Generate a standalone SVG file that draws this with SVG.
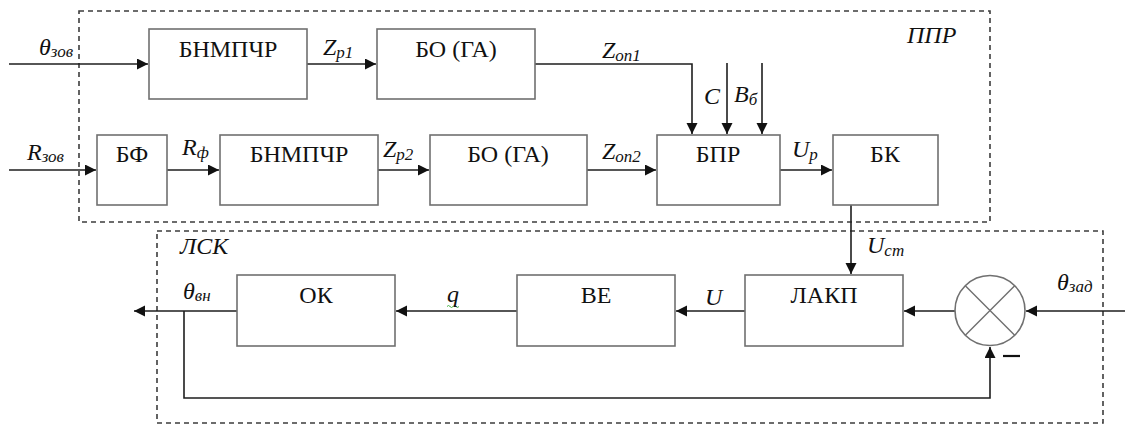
<svg xmlns="http://www.w3.org/2000/svg" width="1125" height="425" viewBox="0 0 1125 425">
<style>
.box{fill:#fff;stroke:#707070;stroke-width:1.6}
.frame{fill:none;stroke:#3c3c3c;stroke-width:1.6;stroke-dasharray:5 4}
.ln{fill:none;stroke:#1e1e1e;stroke-width:1.6}
.bt{font-size:24px;fill:#111;text-anchor:middle}
.lb{font-size:24px;font-style:italic;fill:#111}
.sb{font-size:17px}
</style>
<defs>
<marker id="ar" markerUnits="userSpaceOnUse" markerWidth="12" markerHeight="12" refX="11" refY="5.5" orient="auto">
<path d="M0,0 L11,5.5 L0,11 z" fill="#111"/>
</marker>
</defs>
<g font-family="Liberation Serif, 'Times New Roman', serif">
<g id="frames">
<rect class="frame" x="79" y="11" width="911" height="211"/>
<rect class="frame" x="157" y="231" width="946" height="192"/>
<text class="lb" x="907" y="43">ППР</text>
<text class="lb" x="180" y="254">ЛСК</text>
</g>
<g id="connectors">
<path class="ln" d="M9,64 H148" marker-end="url(#ar)"/>
<path class="ln" d="M307,64 H376" marker-end="url(#ar)"/>
<path class="ln" d="M535,64 H692 V134" marker-end="url(#ar)" stroke="#444"/>
<path class="ln" d="M727,63 V134" marker-end="url(#ar)"/>
<path class="ln" d="M762,63 V134" marker-end="url(#ar)"/>
<path class="ln" d="M9,170 H96" marker-end="url(#ar)"/>
<path class="ln" d="M167,170 H219" marker-end="url(#ar)"/>
<path class="ln" d="M378,170 H429" marker-end="url(#ar)"/>
<path class="ln" d="M587,170 H656" marker-end="url(#ar)"/>
<path class="ln" d="M780,170 H832" marker-end="url(#ar)"/>
<path class="ln" d="M851,205 V274" marker-end="url(#ar)"/>
<path class="ln" d="M1125,311 H1026" marker-end="url(#ar)"/>
<path class="ln" d="M955,311 H904" marker-end="url(#ar)"/>
<path class="ln" d="M745,311 H676" marker-end="url(#ar)"/>
<path class="ln" d="M517,311 H396" marker-end="url(#ar)"/>
<path class="ln" d="M237,311 H134" marker-end="url(#ar)"/>
<path class="ln" d="M184,311 V398 H990 V347" marker-end="url(#ar)" stroke="#444"/>
<path d="M1003,356 H1020" stroke="#111" stroke-width="2.2"/>
<path d="M447,306.5 q1.5,-2 3,0 t3,0 t3,0 t3,0" fill="none" stroke="#3a3" stroke-width="0.9"/>
</g>
<g id="labels">
<text class="lb" x="39" y="55">θ<tspan class="sb" dy="2">зов</tspan></text>
<text class="lb" x="323" y="55">Z<tspan class="sb" dy="3">р1</tspan></text>
<text class="lb" x="602" y="58">Z<tspan class="sb" dy="3">оп1</tspan></text>
<text class="lb" x="704" y="104">C</text>
<text class="lb" x="734" y="102">B<tspan class="sb" dy="3">б</tspan></text>
<text class="lb" x="27" y="160">R<tspan class="sb" dy="2">зов</tspan></text>
<text class="lb" x="182" y="155">R<tspan class="sb" dy="3">ф</tspan></text>
<text class="lb" x="383" y="157">Z<tspan class="sb" dy="3">р2</tspan></text>
<text class="lb" x="602" y="159">Z<tspan class="sb" dy="3">оп2</tspan></text>
<text class="lb" x="792" y="157">U<tspan class="sb" dy="3">р</tspan></text>
<text class="lb" x="867" y="253">U<tspan class="sb" dy="3">ст</tspan></text>
<text class="lb" x="183" y="299">θ<tspan class="sb" dy="2">вн</tspan></text>
<text class="lb" x="447" y="302">q</text>
<text class="lb" x="705" y="305">U</text>
<text class="lb" x="1057" y="290">θ<tspan class="sb" dy="2">зад</tspan></text>
</g>
<g id="bnmpchr1"><rect class="box" x="149" y="29" width="158" height="70"/><text class="bt" x="228" y="57">БНМПЧР</text></g>
<g id="bo1"><rect class="box" x="377" y="29" width="158" height="70"/><text class="bt" x="456" y="57">БО (ГА)</text></g>
<g id="bf"><rect class="box" x="97" y="135" width="70" height="70"/><text class="bt" x="132" y="162">БФ</text></g>
<g id="bnmpchr2"><rect class="box" x="220" y="135" width="158" height="70"/><text class="bt" x="299" y="162">БНМПЧР</text></g>
<g id="bo2"><rect class="box" x="430" y="135" width="157" height="70"/><text class="bt" x="508" y="162">БО (ГА)</text></g>
<g id="bpr"><rect class="box" x="657" y="135" width="123" height="70"/><text class="bt" x="718" y="162">БПР</text></g>
<g id="bk"><rect class="box" x="833" y="135" width="105" height="70"/><text class="bt" x="885" y="162">БК</text></g>
<g id="lakp"><rect class="box" x="745" y="275" width="158" height="71"/><text class="bt" x="824" y="303">ЛАКП</text></g>
<g id="ve"><rect class="box" x="517" y="275" width="158" height="71"/><text class="bt" x="596" y="303">ВЕ</text></g>
<g id="ok"><rect class="box" x="237" y="275" width="158" height="71"/><text class="bt" x="316" y="303">ОК</text></g>
<g id="sum"><circle cx="990" cy="310.5" r="35" fill="#fff" stroke="#707070" stroke-width="1.6"/><path d="M965.3,285.8 L1014.7,335.2 M1014.7,285.8 L965.3,335.2" stroke="#707070" stroke-width="1.4"/></g>
</g>
</svg>
